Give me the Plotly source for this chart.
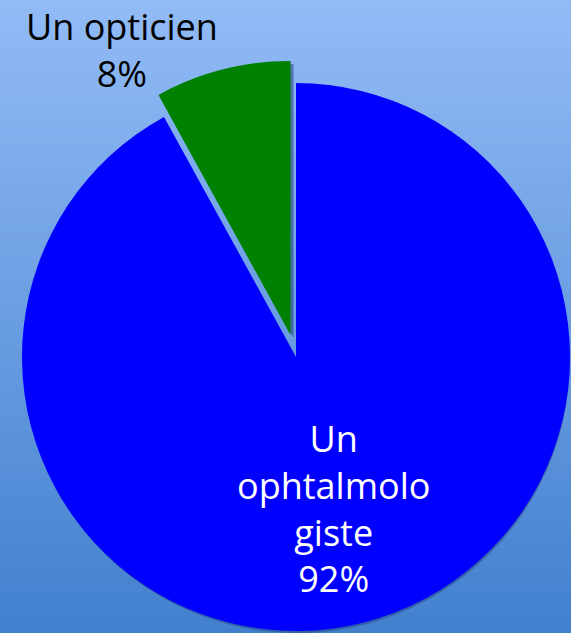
import plotly.graph_objects as go

# ---- data ----
labels = ["Un ophtalmologiste", "Un opticien"]
label_text = ["Un<br>ophtalmolo<br>giste", "Un opticien"]
values = [92, 8]
colors = ["#0000FF", "#008000"]

W, H = 571, 633
CX, CY, R = 296, 357, 274           # pie centre / radius in px
PULL_DX, PULL_DY = -5.5, -22        # exploded slice offset in px


def dom(cx, cy, r):
    clamp = lambda v: min(1.0, max(0.0, v))
    return dict(x=[clamp((cx - r) / W), clamp((cx + r) / W)],
                y=[clamp((H - cy - r) / H), clamp((H - cy + r) / H)])


def pie(cols, cx, cy):
    return go.Pie(labels=labels, values=values, sort=False, direction="clockwise",
                  rotation=0, marker=dict(colors=cols, line=dict(width=0)),
                  textinfo="none", hoverinfo="skip", showlegend=False,
                  domain=dom(cx, cy, R))


clear = "rgba(0,0,0,0)"
shadow = "rgba(20,35,90,0.35)"
fig = go.Figure()
# shadows
fig.add_trace(pie([shadow, clear], CX + 1, CY + 4))
fig.add_trace(pie([clear, "rgba(20,35,90,0.45)"], CX + PULL_DX + 3, CY + PULL_DY + 3))
# main slice
fig.add_trace(pie([colors[0], clear], CX, CY))
# exploded slice
fig.add_trace(pie([clear, colors[1]], CX + PULL_DX, CY + PULL_DY))

# background gradient
top = (146, 187, 246)
bot = (66, 128, 206)
n = 127
shapes = []
for i in range(n):
    t = i / (n - 1)
    c = tuple(round(top[k] + (bot[k] - top[k]) * t) for k in range(3))
    shapes.append(dict(type="rect", xref="paper", yref="paper", x0=0, x1=1,
                       y0=1 - (i + 1) / n - 0.002, y1=1 - i / n,
                       fillcolor="rgb(%d,%d,%d)" % c, line=dict(width=0), layer="below"))

font = "Open Sans, Noto Sans, sans-serif"
annotations = [
    dict(text=f"{label_text[1]}<br>{values[1]}%", x=122 / W, y=1 - 50 / H,
         xref="paper", yref="paper", xanchor="center", yanchor="middle", showarrow=False,
         font=dict(family=font, size=36, color="#000000")),
    dict(text=f"{label_text[0]}<br>{values[0]}%", x=333 / W, y=1 - 508 / H,
         xref="paper", yref="paper", xanchor="center", yanchor="middle", showarrow=False,
         font=dict(family=font, size=36, color="#FFFFFF")),
]

fig.update_layout(width=W, height=H, margin=dict(l=0, r=0, t=0, b=0),
                  paper_bgcolor="rgb(110,160,228)", plot_bgcolor="rgba(0,0,0,0)",
                  shapes=shapes, annotations=annotations)
fig.write_html("out.html", config={"displayModeBar": False},
               post_script="document.body.style.margin='0';document.body.style.overflow='hidden';")
